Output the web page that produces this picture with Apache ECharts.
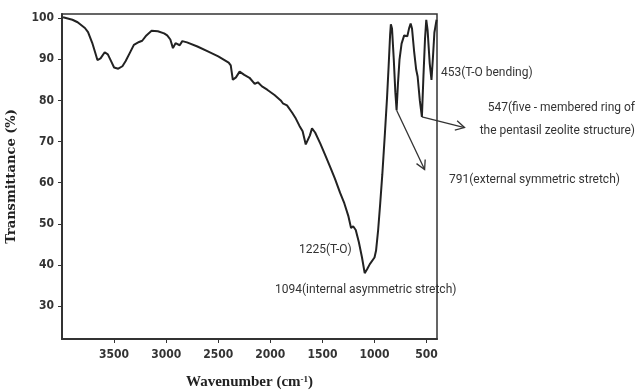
<!DOCTYPE html>
<html>
<head>
<meta charset="utf-8">
<script src="https://cdn.jsdelivr.net/npm/echarts@6/dist/echarts.min.js"></script>
<style>
  html, body { margin: 0; padding: 0; background: #fff; }
  #main { width: 636px; height: 391px; }
</style>
</head>
<body>
<div id="main"></div>
<script>
// FTIR spectrum: [wavenumber, transmittance]
const spectrum = [
  [3990, 100.2], [3900, 99.6], [3850, 99.0], [3780, 97.6], [3750, 96.6],
  [3710, 94.0], [3680, 91.5], [3660, 89.8], [3630, 90.2], [3590, 91.7],
  [3560, 91.2], [3530, 89.6], [3500, 88.0], [3460, 87.7], [3420, 88.3],
  [3390, 89.5], [3350, 91.5], [3310, 93.5], [3260, 94.2], [3230, 94.5],
  [3190, 95.8], [3140, 96.9], [3080, 96.8], [3020, 96.3], [2990, 95.8],
  [2960, 94.8], [2935, 92.7], [2910, 93.9], [2895, 94.2], [2870, 93.4],
  [2845, 94.4], [2800, 94.1], [2700, 93.1], [2600, 91.9], [2500, 90.7],
  [2400, 89.2], [2380, 88.5], [2360, 85.0], [2330, 85.6], [2295, 87.0],
  [2250, 86.2], [2200, 85.5], [2150, 84.0], [2120, 84.4], [2080, 83.4],
  [2030, 82.6], [1960, 81.3], [1900, 80.0], [1880, 79.3], [1840, 78.8],
  [1790, 77.0], [1760, 75.8], [1720, 73.8], [1690, 72.5], [1660, 69.3],
  [1645, 69.0], [1620, 71.5], [1600, 73.2], [1570, 72.2], [1520, 69.5],
  [1470, 66.5], [1420, 63.5], [1380, 61.0], [1330, 57.5], [1290, 55.0],
  [1250, 51.8], [1225, 49.0], [1205, 49.4], [1180, 48.5], [1150, 45.5],
  [1120, 41.8], [1094, 38.0], [1070, 39.0], [1045, 40.2], [1000, 41.8],
  [985, 43.5], [965, 48.5], [945, 55.0], [925, 62.0], [900, 72.0],
  [880, 80.5], [865, 88.0], [850, 96.0], [843, 98.5], [832, 97.5],
  [815, 90.0], [800, 82.0], [788, 77.6], [775, 84.0], [760, 89.9],
  [740, 93.8], [715, 95.8], [700, 96.2], [685, 95.6], [668, 97.5],
  [653, 98.7], [640, 97.5], [620, 92.0], [600, 87.5], [586, 85.8],
  [565, 80.0], [545, 76.0], [530, 86.0], [515, 95.0], [503, 99.6],
  [490, 97.0], [470, 89.0], [453, 85.0], [440, 90.0], [425, 96.5],
  [404, 99.6]
];

const xTicks = [500, 1000, 1500, 2000, 2500, 3000, 3500];
const yTicks = [30, 40, 50, 60, 70, 80, 90, 100];

// arrow pointers: [from, to] in [wavenumber, transmittance]
const arrows = [
  [[788, 77.6], [519, 63.2]],
  [[545, 76.0], [136, 73.4]]
];

const notes = [
  { text: '453(T-O bending)', x: 441, y: 73, align: 'left' },
  { text: '547(five - membered ring of', x: 635, y: 108, align: 'right' },
  { text: 'the pentasil zeolite structure)', x: 635, y: 131, align: 'right' },
  { text: '791(external symmetric stretch)', x: 449, y: 180, align: 'left' },
  { text: '1225(T-O)', x: 299, y: 250, align: 'left' },
  { text: '1094(internal asymmetric stretch)', x: 275, y: 290, align: 'left' }
];

const chart = echarts.init(document.getElementById('main'));

const tickFont = {
  color: '#333',
  fontFamily: "'DejaVu Sans Condensed', 'Liberation Sans', sans-serif",
  fontWeight: 'bold',
  fontSize: 12,
  formatter: v => String(v)
};

const option = {
  animation: false,
  grid: {
    left: 62, right: 199, top: 14, bottom: 52,
    outerBoundsMode: 'none',
    show: true,
    borderColor: '#333',
    borderWidth: 1.5
  },
  xAxis: {
    type: 'value',
    inverse: true,
    min: 400,
    max: 4000,
    name: 'Wavenumber (cm{sup|-1})',
    nameLocation: 'middle',
    nameGap: 36,
    nameTextStyle: {
      color: '#222',
      fontFamily: "'Liberation Serif', serif",
      fontWeight: 'bold',
      fontSize: 15,
      rich: {
        sup: {
          fontFamily: "'Liberation Serif', serif",
          fontWeight: 'bold',
          fontSize: 9,
          verticalAlign: 'top',
          padding: [0, 0, 6, 0]
        }
      }
    },
    axisLine: { lineStyle: { color: '#333', width: 2 } },
    axisTick: { customValues: xTicks, length: 4, lineStyle: { color: '#333' } },
    axisLabel: { customValues: xTicks, margin: 10, ...tickFont },
    splitLine: { show: false }
  },
  yAxis: {
    type: 'value',
    min: 22,
    max: 101,
    name: 'Transmittance (%)',
    nameLocation: 'middle',
    nameGap: 44,
    nameTextStyle: {
      color: '#222',
      fontFamily: "'DejaVu Serif', serif",
      fontWeight: 'bold',
      fontSize: 13
    },
    axisLine: { show: true, lineStyle: { color: '#333', width: 2 } },
    axisTick: { show: true, customValues: yTicks, length: 4, lineStyle: { color: '#333' } },
    axisLabel: { customValues: yTicks, margin: 8, ...tickFont },
    splitLine: { show: false }
  },
  series: [
    {
      type: 'line',
      data: spectrum,
      showSymbol: false,
      silent: true,
      lineStyle: { color: '#222', width: 2 }
    }
  ]
};

chart.setOption(option);

// arrows reach past the axis range, so draw them as graphics placed from data coords
const arrowGraphics = [];
arrows.forEach(a => {
  const p0 = chart.convertToPixel({ gridIndex: 0 }, a[0]);
  const p1 = chart.convertToPixel({ gridIndex: 0 }, a[1]);
  const ang = Math.atan2(p1[1] - p0[1], p1[0] - p0[0]);
  const head = 10, spread = 0.5;
  const h1 = [p1[0] - head * Math.cos(ang - spread), p1[1] - head * Math.sin(ang - spread)];
  const h2 = [p1[0] - head * Math.cos(ang + spread), p1[1] - head * Math.sin(ang + spread)];
  arrowGraphics.push({
    type: 'polyline', silent: true,
    shape: { points: [p0, p1] },
    style: { stroke: '#333', lineWidth: 1.3, fill: null }
  });
  arrowGraphics.push({
    type: 'polyline', silent: true,
    shape: { points: [h1, p1, h2] },
    style: { stroke: '#333', lineWidth: 1.3, fill: null }
  });
});

const noteGraphics = notes.map(n => ({
  type: 'text',
  x: n.x,
  y: n.y,
  silent: true,
  style: {
    text: n.text,
    fill: '#333',
    font: "12px Roboto, 'Liberation Sans', sans-serif",
    textAlign: n.align,
    textVerticalAlign: 'middle'
  }
}));

chart.setOption({ graphic: arrowGraphics.concat(noteGraphics) });
</script>
</body>
</html>
